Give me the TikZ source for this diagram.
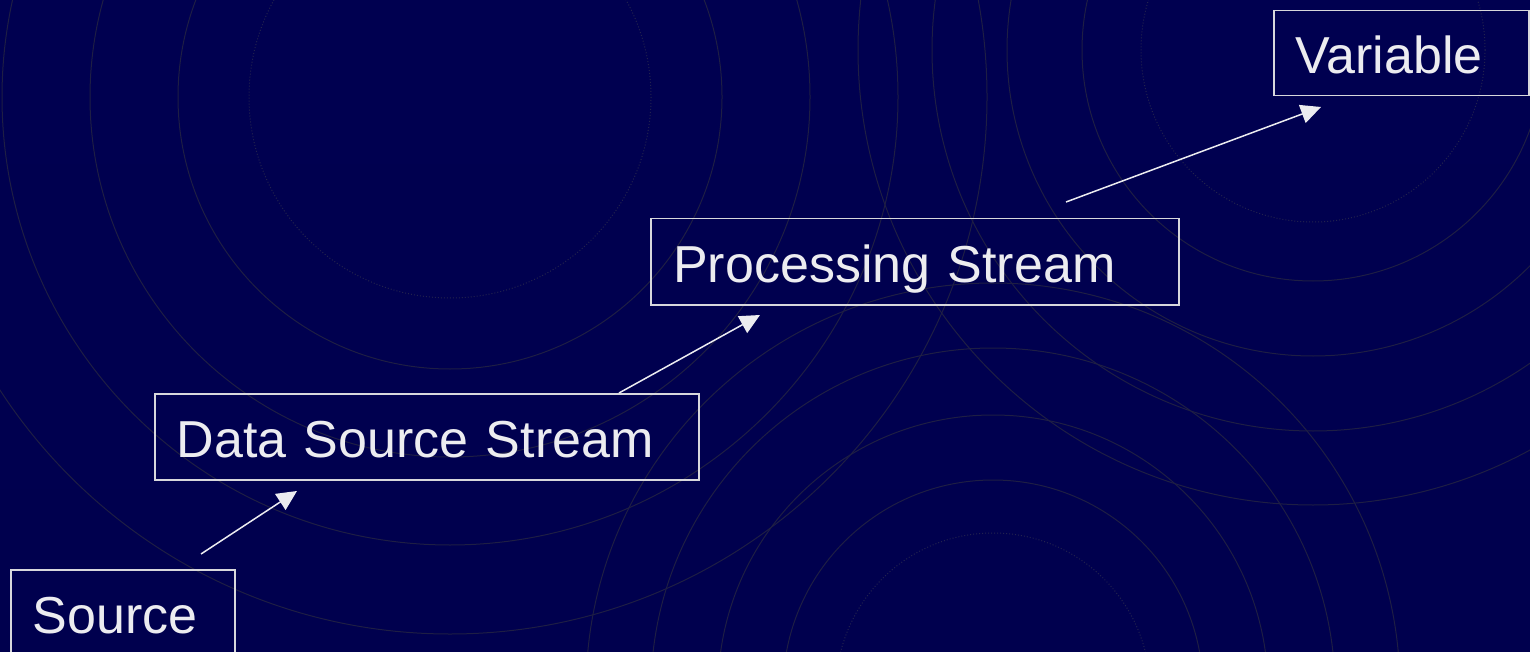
\documentclass[tikz,border=0pt]{standalone}
\usepackage{fontspec}
\setmainfont{Liberation Sans}
\usetikzlibrary{arrows.meta}
\definecolor{bgtop}{RGB}{0,0,80}
\definecolor{bgmid}{RGB}{0,0,104}
\definecolor{bgbot}{RGB}{0,0,78}
\definecolor{ringc}{RGB}{30,30,68}
\definecolor{dotc}{RGB}{34,34,78}
\definecolor{boxc}{RGB}{215,215,220}
\definecolor{txtc}{RGB}{236,236,240}
\tikzset{
  ring/.style={draw=ringc, line width=1pt},
  dotring/.style={draw=dotc, line width=1pt, dotted},
  label box/.style={draw=boxc, line width=1.5pt, anchor=north west,
    inner xsep=22pt, inner ysep=18.5pt, text height=45pt, text depth=4pt,
    align=left, text=txtc, font=\fontsize{52}{60}\selectfont},
  flow/.style={draw=txtc, line width=1.5pt, -{Triangle[length=20pt,width=19pt]}}
}
\begin{document}
\begin{tikzpicture}[x=1pt,y=-1pt]
\useasboundingbox (0,0) rectangle (1530,652);
\shade[top color=bgtop, middle color=bgmid, bottom color=bgbot] (0,0) rectangle (1530,652);
\begin{scope}
\clip (0,0) rectangle (1530,652);
% ring set 1
\draw[dotring] (450,97) circle[radius=201];
\foreach \r in {272,360,448,537} \draw[ring] (450,97) circle[radius=\r];
% ring set 2
\draw[dotring] (1313,50) circle[radius=172];
\foreach \r in {231,306,381,455} \draw[ring] (1313,50) circle[radius=\r];
% ring set 3
\draw[dotring] (993,690) circle[radius=157];
\foreach \r in {210,275,342,407} \draw[ring] (993,690) circle[radius=\r];
\end{scope}
% boxes
\node[label box, text width=180pt] (src) at (10,569) {Source};
\node[label box, text width=500pt] (dss) at (154,393) {Data Source Stream};
\node[label box, text width=483pt, inner xsep=22.5pt] (ps) at (650,218) {Processing Stream};
\node[label box, text width=211pt, inner ysep=18pt] (var) at (1273,10) {Variable};
% arrow end points
\coordinate (a1s) at (201,554);
\coordinate (a1e) at (297,491);
\coordinate (a2s) at (619,393);
\coordinate (a2e) at (760,315);
\coordinate (a3s) at (1066,202);
\coordinate (a3e) at (1321,107);
\draw[flow] (a1s) -- (a1e);
\draw[flow] (a2s) -- (a2e);
\draw[flow] (a3s) -- (a3e);
\end{tikzpicture}
\end{document}
